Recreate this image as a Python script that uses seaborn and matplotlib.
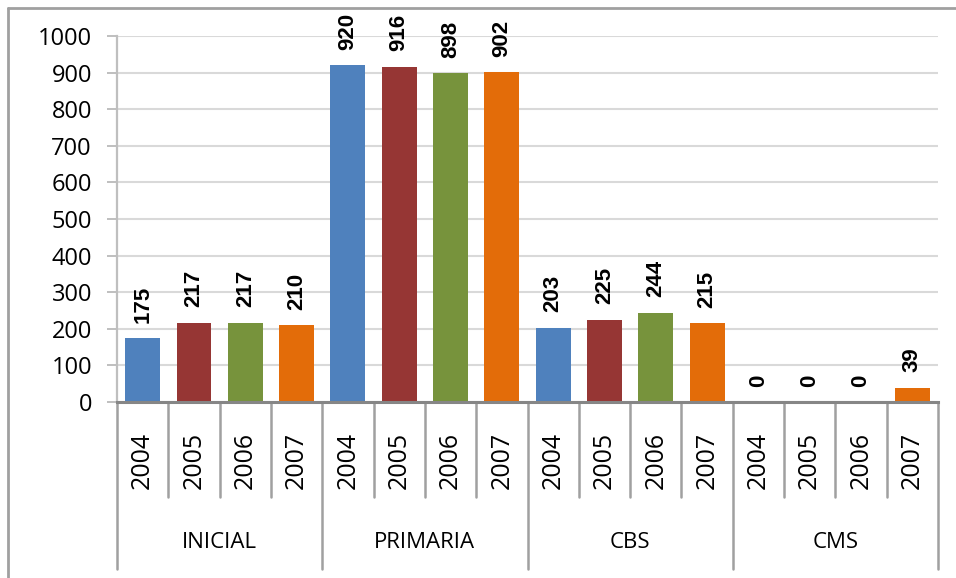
import matplotlib
matplotlib.use("Agg")
import matplotlib.pyplot as plt
from matplotlib.lines import Line2D
import seaborn as sns
import pandas as pd

categories = ["INICIAL", "PRIMARIA", "CBS", "CMS"]
years = ["2004", "2005", "2006", "2007"]
values = {
    "INICIAL": [175, 217, 217, 210],
    "PRIMARIA": [920, 916, 898, 902],
    "CBS": [203, 225, 244, 215],
    "CMS": [0, 0, 0, 39],
}
colors = ["#4F81BD", "#963634", "#77933C", "#E36C09"]
yticks = list(range(0, 1001, 100))

rows = []
for c in categories:
    for y, v in zip(years, values[c]):
        rows.append({"slot": f"{c}-{y}", "cat": c, "year": y, "value": v})
df = pd.DataFrame(rows)

sns.set_style("white")
plt.rcParams["font.family"] = ["Open Sans", "DejaVu Sans"]
plt.rcParams["text.color"] = "black"

fig = plt.figure(figsize=(9.56, 5.78), dpi=100)
W, H = 956, 578
left, right, top, bottom = 117, 938, 36, 402
ax = fig.add_axes([left / W, 1 - bottom / H, (right - left) / W, (bottom - top) / H])

sns.barplot(data=df, x="slot", y="value", hue="year", order=df["slot"].tolist(),
            hue_order=years, palette=colors, dodge=False, width=0.68,
            saturation=1, legend=False, ax=ax, linewidth=0)

ax.set_xlim(-0.5, len(df) - 0.5)
ax.set_ylim(0, 1000)
ax.set_yticks(yticks)
ax.set_yticklabels([str(t) for t in yticks])
ax.set_xticks([])
ax.set_xlabel("")
ax.set_ylabel("")
ax.yaxis.grid(True, color="#D9D9D9", linewidth=1.5)
ax.set_axisbelow(True)
for s in ["top", "right"]:
    ax.spines[s].set_visible(False)
ax.spines["left"].set_color("#BFBFBF")
ax.spines["left"].set_linewidth(1.6)
ax.spines["bottom"].set_color("#868686")
ax.spines["bottom"].set_linewidth(2.2)
ax.tick_params(axis="y", length=7, width=1.4, color="#BFBFBF", pad=11,
               labelsize=17, labelcolor="black", left=True)

for cont in ax.containers:
    ax.bar_label(cont, fmt="%d", padding=11, rotation=90, fontsize=16,
                 fontweight="bold", color="black",
                 family=["Liberation Sans", "DejaVu Sans"])

trans = ax.get_xaxis_transform()
axh = bottom - top
n = len(df)
for i, row in df.iterrows():
    ax.text(i, -58 / axh, row["year"], rotation=90, ha="center", va="center",
            fontsize=18, color="black", transform=trans)
for b in range(n + 1):
    x = b - 0.5
    is_cat = (b % 4 == 0)
    y_end = -167 / axh if is_cat else -95 / axh
    ax.add_line(Line2D([x, x], [0, y_end], transform=trans, color="#A0A0A0",
                       linewidth=1.8, clip_on=False))
for k, c in enumerate(categories):
    ax.text(4 * k + 1.5, -140 / axh, c, ha="center", va="center", fontsize=16,
            color="black", transform=trans)

# outer chart frame
fig.add_artist(Line2D([8 / W, 8 / W], [0, 1 - 8 / H], transform=fig.transFigure,
                      color="#A0A0A0", linewidth=2))
fig.add_artist(Line2D([8 / W, 1], [1 - 8 / H, 1 - 8 / H], transform=fig.transFigure,
                      color="#A0A0A0", linewidth=2))

fig.savefig("out.png", dpi=100)
